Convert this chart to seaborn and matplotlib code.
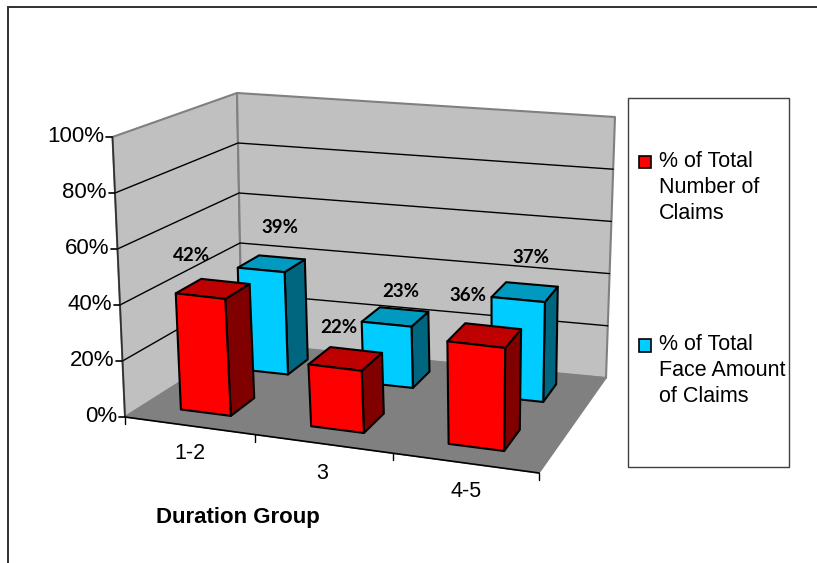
import numpy as np
import pandas as pd
import matplotlib
matplotlib.use("Agg")
import matplotlib.pyplot as plt
from matplotlib.patches import Polygon, Rectangle
import seaborn as sns

# ---- chart data ----
groups = ["1-2", "3", "4-5"]
number_of_claims = [42, 22, 36]
face_amount_of_claims = [39, 23, 37]
value_ticks = [0, 20, 40, 60, 80, 100]
series_names = ["% of Total\nNumber of\nClaims", "% of Total\nFace Amount\nof Claims"]

claims = pd.DataFrame({
    "group": groups * 2,
    "series": [0] * 3 + [1] * 3,
    "pct": number_of_claims + face_amount_of_claims,
})

# ---- style tables ----
FRONT = ["#FF0000", "#00CCFF"]
TOP = ["#BF0000", "#0099BF"]
SIDE = ["#800000", "#006680"]
BAR_WIDTH = 0.39      # share of a category slot along the front edge
BAR_DEPTH = 0.42      # share of a series slot along the floor depth
BAR_SKEW = 0.0135     # keeps bar sides steeper than the floor's outer edges
BAR_SHIFT_U = -0.006  # nudge of the bars along the category axis
BAR_SHIFT_V = [0.0, 0.015]  # nudge of each series towards the back wall
U_EASE = 0.09         # evens out category spacing along the front edge

# pixel shift of each value label from the centre of its bar's top
LABEL_SHIFT = {(0, 0): (-21.5, -33), (1, 0): (8, -36),
               (0, 1): (-7, -31), (1, 1): (5, -25),
               (0, 2): (-17, -40), (1, 2): (6, -34)}

# ---- view of the 3D box: corners of the floor and ceiling on the canvas ----
FLOOR = [(125, 417), (539, 473), (606, 378), (242, 343)]
CEIL = [(112.5, 137), (548, 181), (615, 117), (237, 93)]


def homography(corners):
    """Map the unit square (u, v) onto four canvas corners."""
    unit = [(0, 0), (1, 0), (1, 1), (0, 1)]
    rows, rhs = [], []
    for (u, v), (x, y) in zip(unit, corners):
        rows.append([u, v, 1, 0, 0, 0, -u * x, -v * x])
        rows.append([0, 0, 0, u, v, 1, -u * y, -v * y])
        rhs += [x, y]
    h = np.linalg.solve(np.array(rows, float), np.array(rhs, float))
    return np.append(h, 1).reshape(3, 3)


H_FLOOR, H_CEIL = homography(FLOOR), homography(CEIL)


def project(u, v, pct):
    """Canvas position of category position u, depth v and a percentage height."""
    eased = u + U_EASE * u * (1 - u)

    def apply(h):
        p = h @ np.array([eased, v, 1.0])
        return p[:2] / p[2]
    t = pct / 100.0
    return tuple((1 - t) * apply(H_FLOOR) + t * apply(H_CEIL))


sns.set_theme(style="white")
plt.rcParams["font.family"] = ["Liberation Sans", "DejaVu Sans"]

fig = plt.figure(figsize=(8.17, 5.63), dpi=100, facecolor="white")
ax = fig.add_axes([0, 0, 1, 1])
ax.set_xlim(0, 817)
ax.set_ylim(563, 0)
ax.axis("off")


def face(points, color, edge="black", lw=1.5, z=2):
    ax.add_patch(Polygon(points, closed=True, facecolor=color, edgecolor=edge,
                         linewidth=lw, joinstyle="round", zorder=z))


# chart frame: only its top and left edges fall on the canvas
ax.plot([8.5, 8.5, 817], [563, 6.5, 6.5], color="#303030", lw=1.4, zorder=1,
        solid_joinstyle="miter")

# walls and floor
face([project(0, 0, 0), project(0, 1, 0), project(0, 1, 100), project(0, 0, 100)],
     "#C0C0C0", edge="#808080", lw=1.5)
face([project(0, 1, 0), project(1, 1, 0), project(1, 1, 100), project(0, 1, 100)],
     "#C0C0C0", edge="#808080", lw=1.5)
face([project(0, 0, 0), project(1, 0, 0), project(1, 1, 0), project(0, 1, 0)],
     "#808080", edge="#808080", lw=1.0)

# gridlines run along the left wall and the back wall
for pct in value_ticks[1:-1]:
    pts = [project(0, 0, pct), project(0, 1, pct), project(1, 1, pct)]
    ax.plot(*zip(*pts), color="black", lw=1.0, zorder=2.2, solid_joinstyle="miter")

# axis lines, ticks and tick labels
ax.plot(*zip(project(0, 0, 0), project(0, 0, 100)), color="#303030", lw=1.2, zorder=2.3)
ax.plot(*zip(project(0, 0, 0), project(1, 0, 0)), color="black", lw=1.2, zorder=2.3)
for pct in value_ticks:
    x, y = project(0, 0, pct)
    ax.plot([x - 6, x], [y, y], color="black", lw=1.2, zorder=2.3)
    ax.text(x - 8, y, f"{pct}%", ha="right", va="center", fontsize=16, color="black")
for i in range(len(groups) + 1):
    x, y = project(i / len(groups), 0, 0)
    ax.plot([x, x], [y, y + 7], color="black", lw=1.0, zorder=2.3)
for i, (name, nudge) in enumerate(zip(groups, [0, 2, 0])):
    x, y = project((i + 0.5) / len(groups), 0, 0)
    ax.text(x + 1 - nudge, y + 28 + nudge, name, ha="center", va="center",
            fontsize=15.5, color="black")

ax.text(238, 517, "Duration Group", ha="center", va="center", fontsize=16,
        fontweight="bold", color="black")

# bars: back series first so the front series overlaps it
cats, n_series = len(groups), 2
for row in claims.sort_values("series", ascending=False).itertuples():
    i = groups.index(row.group)
    j = row.series
    u0 = (i + (1 - BAR_WIDTH) / 2) / cats + BAR_SHIFT_U
    u1 = u0 + BAR_WIDTH / cats
    v0 = (j + (1 - BAR_DEPTH) / 2) / n_series + BAR_SHIFT_V[j]
    v1 = v0 + BAR_DEPTH / n_series
    lean = BAR_SKEW * (v1 - v0) / 2
    h = row.pct
    z = 3 + (n_series - j) + i * 0.1
    face([project(u1 + lean, v0, 0), project(u1 - lean, v1, 0),
          project(u1 - lean, v1, h), project(u1 + lean, v0, h)], SIDE[j], z=z)
    face([project(u0 + lean, v0, h), project(u1 + lean, v0, h),
          project(u1 - lean, v1, h), project(u0 - lean, v1, h)], TOP[j], z=z)
    face([project(u0 + lean, v0, 0), project(u1 + lean, v0, 0),
          project(u1 + lean, v0, h), project(u0 + lean, v0, h)], FRONT[j], z=z)
    cx, cy = project((u0 + u1) / 2, (v0 + v1) / 2, h)
    dx, dy = LABEL_SHIFT[(j, i)]
    ax.text(cx + dx, cy + dy, f"{h}%", ha="center", va="center", fontsize=13.5,
            fontweight="bold", family=["Lato", "DejaVu Sans"], color="black", zorder=9)

# legend panel
ax.add_patch(Rectangle((628.5, 97.5), 160.5, 369, facecolor="white",
                       edgecolor="#404040", linewidth=1.0, zorder=2))
for color, y_key, y_text, label in zip(FRONT, [161.5, 345], [187.5, 370.5], series_names):
    ax.add_patch(Rectangle((639, y_key - 6), 12.5, 12.5, facecolor=color,
                           edgecolor="black", linewidth=1.2, zorder=3))
    ax.text(659, y_text, label, ha="left", va="center", fontsize=15.5,
            linespacing=1.3, color="black", zorder=3)

fig.savefig("out.png", dpi=100)
